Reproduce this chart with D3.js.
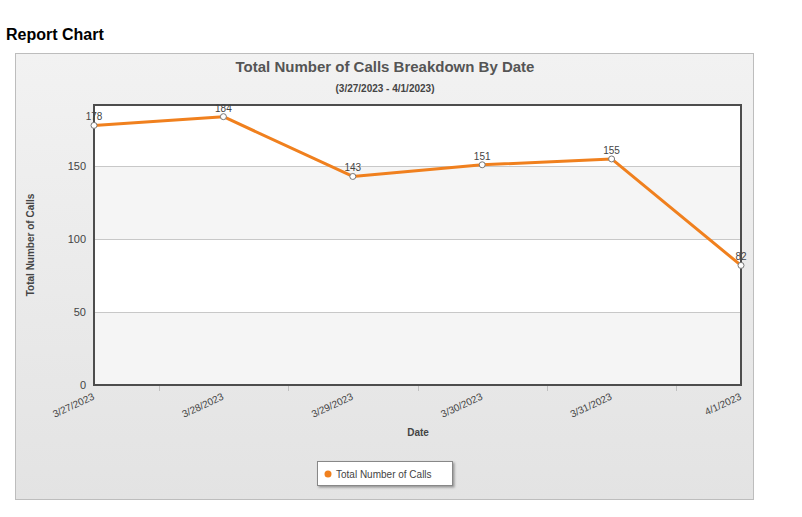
<!DOCTYPE html>
<html><head><meta charset="utf-8">
<script src="https://cdn.jsdelivr.net/npm/d3@7"></script>
<style>body{margin:0;background:#fff;font-family:"Liberation Sans",Arial,sans-serif;}</style>
</head><body>
<svg id="c" width="802" height="517"></svg>
<script>
const categories = ["3/27/2023","3/28/2023","3/29/2023","3/30/2023","3/31/2023","4/1/2023"];
const values = [178,184,143,151,155,82];
const yTicks = [0,50,100,150];
const seriesName = "Total Number of Calls";

const svg = d3.select("#c");
const defs = svg.append("defs");
const g1 = defs.append("linearGradient").attr("id","bg").attr("x1",0).attr("y1",0).attr("x2",0).attr("y2",1);
g1.append("stop").attr("offset","0%").attr("stop-color","#f2f2f2");
g1.append("stop").attr("offset","100%").attr("stop-color","#e3e3e3");
const f = defs.append("filter").attr("id","sh").attr("x","-10%").attr("y","-20%").attr("width","130%").attr("height","160%");
f.append("feDropShadow").attr("dx",1.5).attr("dy",1.5).attr("stdDeviation",1).attr("flood-color","#000").attr("flood-opacity",0.35);

svg.append("text").attr("x",6).attr("y",40).attr("font-size",16).attr("font-weight","bold").attr("fill","#000").text("Report Chart");

svg.append("rect").attr("x",15.5).attr("y",53.5).attr("width",738).attr("height",446).attr("fill","url(#bg)").attr("stroke","#bdbdbd");

const L=94,R=741,T=105,B=385;
const x = d3.scalePoint().domain(categories).range([L,R]);
const y = d3.scaleLinear().domain([0,192]).range([B,T]);

// bands
const bands=[[0,50,"#f5f5f5"],[50,100,"#ffffff"],[100,150,"#f5f5f5"],[150,192,"#ffffff"]];
svg.selectAll("rect.band").data(bands).enter().append("rect")
  .attr("x",L).attr("width",R-L).attr("y",d=>y(d[1])).attr("height",d=>y(d[0])-y(d[1])).attr("fill",d=>d[2]);
svg.selectAll("line.grid").data(yTicks.filter(v=>v>0)).enter().append("line")
  .attr("x1",L).attr("x2",R).attr("y1",d=>Math.round(y(d))+0.5).attr("y2",d=>Math.round(y(d))+0.5).attr("stroke","#c8c8c8");

// plot border
svg.append("rect").attr("x",L).attr("y",T).attr("width",R-L).attr("height",B-T).attr("fill","none").attr("stroke","#4d4d4d").attr("stroke-width",2);

// x tick marks at midpoints
const step = x.step();
svg.selectAll("line.xt").data(categories.slice(0,-1)).enter().append("line")
  .attr("x1",d=>Math.round(x(d)+step/2)+0.5).attr("x2",d=>Math.round(x(d)+step/2)+0.5).attr("y1",B+1).attr("y2",B+6).attr("stroke","#c0c0c0");

// y labels
svg.selectAll("text.yl").data(yTicks).enter().append("text")
  .attr("x",86).attr("y",d=>y(d)+4).attr("text-anchor","end").attr("font-size",11).attr("fill","#444").text(d=>d);

// x labels
svg.selectAll("text.xl").data(categories).enter().append("text")
  .attr("transform",d=>`translate(${x(d)+1},${B+14}) rotate(-25)`).attr("text-anchor","end")
  .attr("font-size",10).attr("fill","#444").text(d=>d);

svg.append("text").attr("x",418).attr("y",436).attr("text-anchor","middle").attr("font-size",10).attr("font-weight","bold").attr("fill","#444").text("Date");
svg.append("text").attr("transform",`translate(34,245) rotate(-90)`).attr("text-anchor","middle").attr("font-size",10).attr("font-weight","bold").attr("fill","#444").text("Total Number of Calls");

svg.append("text").attr("x",385).attr("y",72).attr("text-anchor","middle").attr("font-size",15).attr("font-weight","bold").attr("fill","#555").text("Total Number of Calls Breakdown By Date");
svg.append("text").attr("x",385).attr("y",92).attr("text-anchor","middle").attr("font-size",10).attr("font-weight","bold").attr("fill","#444").text("(3/27/2023 - 4/1/2023)");

// line
const line = d3.line().x((d,i)=>x(categories[i])).y(d=>y(d));
svg.append("path").datum(values).attr("d",line).attr("fill","none").attr("stroke","#f0801e").attr("stroke-width",3).attr("stroke-linejoin","round");
svg.selectAll("circle.pt").data(values).enter().append("circle")
  .attr("cx",(d,i)=>x(categories[i])).attr("cy",d=>y(d)).attr("r",3).attr("fill","#fff").attr("stroke","#777").attr("stroke-width",1);
svg.selectAll("text.dl").data(values).enter().append("text")
  .attr("x",(d,i)=>x(categories[i])).attr("y",d=>y(d)-5).attr("text-anchor","middle").attr("font-size",10).attr("fill","#444").text(d=>d);

// legend
svg.append("rect").attr("x",317.5).attr("y",461.5).attr("width",135).attr("height",24).attr("fill","#fff").attr("stroke","#888").attr("filter","url(#sh)");
svg.append("circle").attr("cx",328).attr("cy",474).attr("r",3.5).attr("fill","#f0801e");
svg.append("text").attr("x",336).attr("y",478).attr("font-size",10).attr("fill","#444").text(seriesName);
</script>
</body></html>
